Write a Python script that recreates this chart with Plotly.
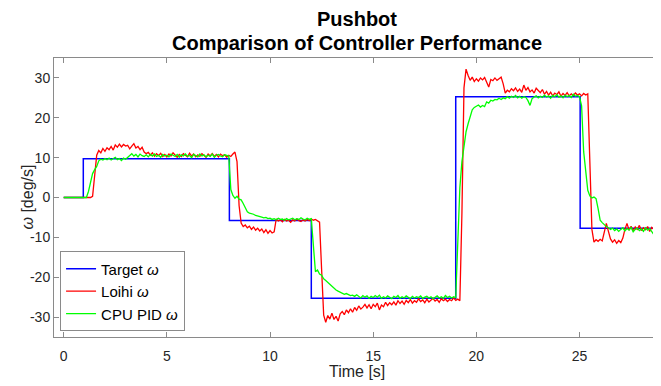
import numpy as np
import plotly.graph_objects as go

# sampling time grid (s), 0.0 .. 28.9 in 0.1 s steps
time = np.round(np.arange(290) * 0.1, 1)

# target angular velocity (step changes)
t_target = [0.0, 0.95, 8.03, 12.0, 19.0, 25.03, 28.9]
target = [0.0, 9.7, -5.8, -25.3, 25.3, -7.7, -7.7]

# Loihi controller response, one row per second
loihi = [
    0, 0, 0, 0, 0, 0, 0, 0, 0, 0,
    0, 0, 0, 0, 0.3, 5.0, 10.6, 11.8, 11.2, 12.3,
    11.6, 12.5, 12.0, 12.8, 11.9, 13.2, 12.6, 13.4, 12.7, 13.3,
    12.9, 13.1, 12.2, 12.9, 13.5, 12.4, 12.8, 12.0, 12.6, 11.4,
    11.0, 11.3, 10.6, 11.2, 10.4, 11.0, 10.5, 11.1, 10.3, 10.8,
    10.2, 10.9, 10.4, 11.2, 10.5, 10.1, 10.8, 10.3, 11.0, 10.6,
    10.2, 11.1, 10.4, 10.9, 10.2, 10.7, 10.3, 11.0, 10.5, 10.1,
    10.9, 10.4, 11.0, 10.3, 10.8, 10.2, 10.9, 10.5, 10.7, 10.1,
    10.6, 10.3, 10.9, 11.4, 9.0, -2.0, -6.4, -7.3, -6.9, -7.6,
    -7.2, -8.0, -7.4, -8.2, -7.7, -8.4, -7.9, -8.8, -8.1, -9.0,
    -8.3, -8.9, -8.6, -5.4, -5.9, -5.6, -6.1, -5.5, -5.9, -5.7,
    -6.2, -5.6, -5.9, -5.4, -5.8, -6.0, -5.6, -5.9, -5.5, -5.8,
    -5.4, -5.7, -5.5, -5.8, -6.2, -18.0, -29.5, -31.3, -29.6, -30.5,
    -29.0, -30.6, -29.8, -31.0, -29.2, -28.6, -29.4, -28.2, -28.9, -27.9,
    -28.8, -27.6, -28.3, -27.2, -28.0, -27.5, -26.8, -27.7, -26.9, -27.9,
    -26.8, -27.4, -26.5, -28.2, -27.0, -27.4, -26.3, -27.1, -26.4, -26.9,
    -26.2, -27.0, -25.9, -26.6, -26.0, -26.8, -25.8, -26.4, -25.6, -26.5,
    -25.9, -26.3, -25.4, -26.1, -25.7, -26.4, -25.5, -26.2, -25.8, -25.3,
    -26.0, -25.6, -26.3, -25.4, -25.9, -25.5, -26.1, -25.6, -25.9, -25.2,
    -25.8, -25.5, -25.9, -4.0, 27.5, 32.2, 30.6, 29.4, 30.2, 29.1,
    29.8, 29.2, 30.0, 29.5, 30.1, 29.0, 27.7, 29.6, 29.3, 30.0,
    29.4, 29.8, 30.2, 28.5, 26.2, 26.9, 26.5, 27.3, 26.8, 27.5,
    26.6, 27.2, 26.4, 28.2, 26.9, 27.6, 26.5, 27.0, 26.2, 27.4,
    26.7, 26.3, 27.1, 25.9, 26.6, 25.7, 26.4, 25.5, 26.2, 25.8,
    26.5, 25.4, 26.1, 25.6, 26.3, 25.5, 26.0, 25.6, 26.2, 25.7,
    26.0, 25.5, 26.1, 25.7, 26.0, 10.0, -8.0, -11.2, -10.6, -11.0,
    -10.5, -10.9, -9.0, -6.5, -8.5, -10.4, -11.2, -10.6, -11.5, -10.8,
    -11.3, -10.2, -8.0, -6.5, -8.2, -7.2, -8.4, -7.4, -8.0, -7.0,
    -8.3, -7.6, -8.1, -7.3, -8.5, -7.5, -8.0, -7.2, -8.2, -7.6,
]

# CPU PID controller response, one row per second
cpu_pid = [
    0, 0, 0, 0, 0, 0, 0, 0, 0, 0,
    0, 0, 1.5, 4.0, 6.0, 7.0, 7.8, 9.2, 9.6, 9.4,
    9.8, 9.5, 9.9, 9.4, 9.7, 10.1, 9.5, 9.8, 9.3, 9.9,
    9.6, 10.0, 10.6, 11.0, 10.4, 10.8, 10.2, 10.9, 10.5, 10.3,
    10.7, 10.2, 10.8, 10.4, 10.9, 10.3, 10.6, 10.1, 10.8, 10.4,
    10.6, 10.2, 10.9, 10.5, 10.3, 10.8, 10.1, 10.7, 10.4, 10.9,
    10.3, 10.6, 10.0, 10.8, 10.5, 10.2, 10.9, 10.4, 10.7, 10.2,
    10.6, 10.3, 10.9, 10.1, 10.6, 10.8, 10.4, 10.2, 10.7, 10.5,
    10.4, 2.0, 0.5, -0.2, 0.3, -0.4, -0.6, -1.5, -2.8, -3.6,
    -3.9, -4.0, -4.2, -4.5, -4.6, -4.8, -4.9, -5.1, -5.0, -5.3,
    -5.2, -5.5, -5.3, -5.6, -5.2, -5.5, -5.4, -5.7, -5.3, -5.6,
    -5.4, -5.2, -5.6, -5.3, -5.5, -5.1, -5.4, -5.6, -5.2, -5.5,
    -5.3, -12.0, -18.6, -18.2, -19.2, -19.5, -20.4, -20.8, -21.3, -21.8,
    -22.3, -22.7, -23.2, -23.5, -23.8, -24.0, -24.3, -24.1, -24.4, -24.6,
    -24.5, -24.8, -24.4, -24.9, -25.2, -24.6, -25.0, -24.7, -25.3, -24.8,
    -25.1, -24.6, -25.0, -24.5, -25.3, -24.9, -25.2, -24.7, -25.0, -25.4,
    -24.8, -25.1, -24.6, -25.3, -24.9, -25.2, -24.7, -25.0, -25.4, -24.8,
    -25.2, -24.9, -25.1, -24.7, -25.3, -25.0, -24.8, -25.2, -24.9, -25.4,
    -25.0, -24.7, -25.2, -24.9, -25.3, -24.6, -25.1, -24.8, -25.2, -24.9,
    -25.1, -10.0, 2.5, 9.0, 13.5, 16.5, 18.5, 20.5, 22.0, 22.6,
    22.9, 23.2, 22.7, 23.1, 22.8, 24.0, 23.7, 24.4, 24.2, 24.6,
    24.5, 24.9, 24.6, 25.0, 24.8, 25.3, 24.9, 25.4, 25.1, 25.6,
    25.0, 25.4, 24.9, 25.3, 25.1, 24.3, 23.1, 24.8, 25.2, 25.5,
    25.0, 25.4, 25.1, 25.7, 25.2, 25.5, 24.9, 25.6, 25.3, 25.8,
    25.2, 25.5, 25.0, 25.7, 25.3, 25.6, 25.1, 25.9, 25.4, 25.6,
    25.3, 23.0, 11.5, 6.5, 1.8, 0.4, -0.1, 0.1, -0.3, -2.8,
    -5.7, -6.3, -6.9, -7.3, -7.6, -8.0, -7.7, -8.3, -7.9, -8.5,
    -8.0, -7.6, -8.4, -7.8, -8.2, -7.5, -8.6, -8.0, -7.7, -8.3,
    -7.9, -8.5, -7.6, -8.2, -7.8, -8.7, -9.3, -7.5, -8.3, -8.1,
]

x_ticks = [0, 5, 10, 15, 20, 25]
x_tick_labels = ["0", "5", "10", "15", "20", "25"]
y_ticks = [-30, -20, -10, 0, 10, 20, 30]
y_tick_labels = ["-30", "-20", "-10", "0", "10", "20", "30"]

FONT = "Liberation Sans, Arial, sans-serif"
AXIS_COLOR = "#8a8a8a"
TEXT_COLOR = "#262626"

# the page body adds an 8 px offset, so the figure is sized to fill the rest
FIG_W, FIG_H = 653, 378
PLOT_L, PLOT_R, PLOT_T, PLOT_B = 46, 652, 50, 329

fig = go.Figure()
fig.add_trace(go.Scatter(x=t_target, y=target, mode="lines", line_shape="hv",
                         line=dict(color="#0000ff", width=1.5),
                         name="Target <i>ω</i>"))
fig.add_trace(go.Scatter(x=time, y=loihi, mode="lines",
                         line=dict(color="#ff0000", width=1.3),
                         name="Loihi <i>ω</i>"))
fig.add_trace(go.Scatter(x=time, y=cpu_pid, mode="lines",
                         line=dict(color="#00ff00", width=1.3),
                         name="CPU PID <i>ω</i>"))

axis_common = dict(showline=True, mirror="ticks", linecolor=AXIS_COLOR, linewidth=1,
                   ticks="inside", ticklen=5, tickcolor=AXIS_COLOR, tickwidth=1,
                   showgrid=False, zeroline=False, automargin=False,
                   tickfont=dict(family=FONT, size=14, color=TEXT_COLOR))

fig.update_xaxes(range=[-0.47, 28.9], tickvals=x_ticks, ticktext=x_tick_labels,
                 ticklabelstandoff=6, **axis_common)
fig.update_yaxes(range=[-35, 35], tickvals=y_ticks, ticktext=y_tick_labels,
                 ticklabelstandoff=0, **axis_common)

ph = PLOT_B - PLOT_T
pw = PLOT_R - PLOT_L
ann = []
for text, ypix in [("<b>Pushbot</b>", 11), ("<b>Comparison of Controller Performance</b>", 35)]:
    ann.append(dict(text=text, x=0.5, xref="paper", yref="paper",
                    y=(PLOT_B - ypix) / ph,
                    xanchor="center", yanchor="middle", showarrow=False,
                    font=dict(family=FONT, size=20, color="#000000")))
ann.append(dict(text="Time [s]", x=0.5, xref="paper", yref="paper",
                y=(PLOT_B - 363) / ph,
                xanchor="center", yanchor="middle", showarrow=False,
                font=dict(family=FONT, size=16, color=TEXT_COLOR)))
ann.append(dict(text="<i>ω</i> [deg/s]", x=(19 - PLOT_L) / pw, xref="paper", yref="paper",
                y=0.5, xanchor="center", yanchor="middle", textangle=-90, showarrow=False,
                font=dict(family=FONT, size=16, color=TEXT_COLOR)))

fig.update_layout(
    width=FIG_W, height=FIG_H,
    margin=dict(l=PLOT_L, r=FIG_W - PLOT_R, t=PLOT_T, b=FIG_H - PLOT_B),
    paper_bgcolor="white", plot_bgcolor="white",
    annotations=ann,
    legend=dict(x=0.01, y=0.02, xanchor="left", yanchor="bottom",
                bgcolor="white", bordercolor=AXIS_COLOR, borderwidth=1,
                font=dict(family=FONT, size=15, color="#000000"),
                tracegroupgap=0, itemwidth=30),
    showlegend=True,
)

fig.write_html("out.html")
